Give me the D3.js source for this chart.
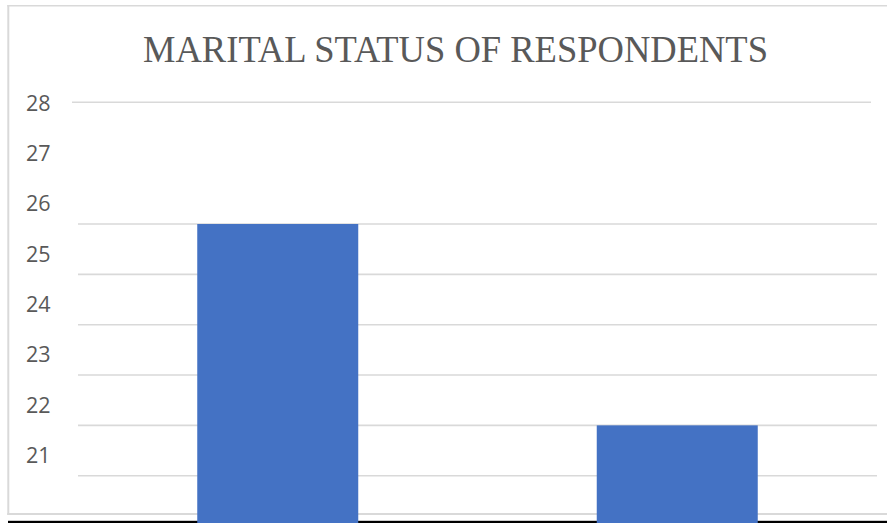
<!DOCTYPE html>
<html>
<head>
<meta charset="utf-8">
<script src="https://cdn.jsdelivr.net/npm/d3@7"></script>
<style>
  html, body { margin: 0; padding: 0; background: #fff; }
  svg { display: block; }
</style>
</head>
<body>
<div id="chart"></div>
<script>
// ---- data ----
const categories = ["Married", "Single"];
const values = [26, 22];
const tickLabels = [21, 22, 23, 24, 25, 26, 27, 28];
const gridValues = [21, 22, 23, 24, 25, 26];
const chartTitle = "MARITAL STATUS OF RESPONDENTS";

// ---- layout ----
const W = 887, H = 523;
const plotLeft = 78, plotRight = 877;
const yBase = 20, yTop = 28.42;

const svg = d3.select("#chart").append("svg")
  .attr("width", W).attr("height", H);

svg.append("rect").attr("width", W).attr("height", H).attr("fill", "#fff");

const x = d3.scaleBand()
  .domain(categories)
  .range([plotLeft, plotRight])
  .paddingInner(0.597)
  .paddingOuter(0.2985);

const y = d3.scaleLinear()
  .domain([21, 26])
  .range([475.7, 224]);

// chart frame
const frame = svg.append("g").attr("stroke", "#d9d9d9").attr("fill", "none");
frame.append("line").attr("x1", 8.3).attr("x2", 8.3).attr("y1", 5).attr("y2", 515).attr("stroke-width", 2);
frame.append("line").attr("x1", 7.3).attr("x2", W).attr("y1", 5.8).attr("y2", 5.8).attr("stroke-width", 1.5);
frame.append("line").attr("x1", 7.3).attr("x2", W).attr("y1", 514).attr("y2", 514).attr("stroke-width", 2);

// black bottom rule
svg.append("rect").attr("x", 8).attr("y", 520.8).attr("width", W - 8).attr("height", 2.2).attr("fill", "#000");

// title
svg.append("text")
  .attr("x", 455.5).attr("y", 62)
  .attr("text-anchor", "middle")
  .attr("font-family", "'Liberation Serif', 'Times New Roman', serif")
  .attr("font-size", 38)
  .attr("fill", "#595959")
  .attr("textLength", 625)
  .attr("lengthAdjust", "spacingAndGlyphs")
  .text(chartTitle);

// gridlines
const grid = svg.append("g").attr("stroke", "#d9d9d9").attr("stroke-width", 1.6);
grid.selectAll("line.g").data(gridValues).enter().append("line")
  .attr("class", "g")
  .attr("x1", plotLeft).attr("x2", plotRight)
  .attr("y1", d => y(d)).attr("y2", d => y(d));
grid.append("line")
  .attr("x1", 72).attr("x2", 871)
  .attr("y1", y(yTop)).attr("y2", y(yTop));

// y tick labels (offset between gridlines as in the original)
svg.append("g").selectAll("text").data(tickLabels).enter().append("text")
  .attr("x", 50.5)
  .attr("y", d => y(d) - 21.3)
  .attr("text-anchor", "end")
  .attr("dominant-baseline", "central")
  .attr("font-family", "'Open Sans', 'Liberation Sans', sans-serif")
  .attr("font-size", 21.5)
  .attr("fill", "#595959")
  .text(d => d);

// bars
svg.append("g").selectAll("rect").data(values).enter().append("rect")
  .attr("x", (d, i) => x(categories[i]))
  .attr("width", x.bandwidth())
  .attr("y", d => y(d))
  .attr("height", d => y(yBase) - y(d))
  .attr("fill", "#4472C4");
</script>
</body>
</html>
